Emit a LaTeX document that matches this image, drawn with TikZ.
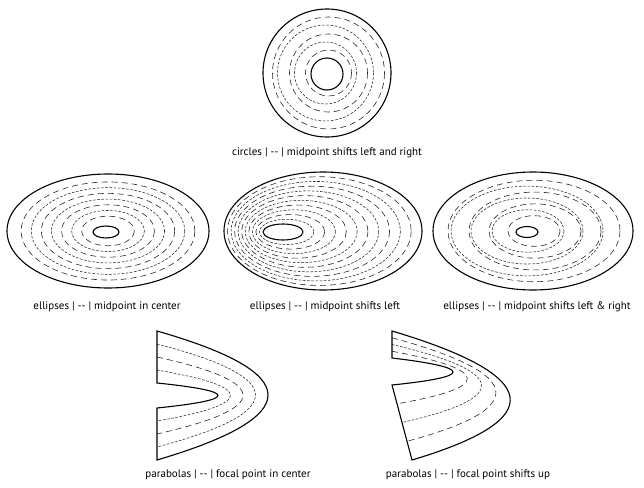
\documentclass[tikz,border=0pt]{standalone}
\usepackage{fontspec}
\setmainfont{PT Sans}
\usepackage{tikz}
\usetikzlibrary{calc}
\newcommand{\captfont}{\fontsize{11}{13}\selectfont}
\tikzset{
  solidline/.style={line width=1.1pt, draw=black},
  longdash/.style={line width=0.6pt, draw=black!85, dash pattern=on 6pt off 4pt},
  shortdash/.style={line width=0.55pt, draw=black!85, dash pattern=on 2.6pt off 1.6pt},
  capt/.style={font=\captfont, inner sep=0pt, anchor=center},
}

\begin{document}
\begin{tikzpicture}[x=1pt, y=-1pt]
  \useasboundingbox (0,0) rectangle (644,487);

  % --- Circles ---
  \draw[solidline] (327,73) circle[radius=64];
  \foreach \r/\dx/\sty in {56/1.5/longdash, 48/-1.5/shortdash, 39/1.5/longdash,
                           31/-1.5/shortdash, 23/1.5/longdash}
    \draw[\sty] ({327+\dx},73) circle[radius=\r];
  \draw[solidline] (327,74) circle[radius=16];
  \node[capt] (lbl-circ) at (327,153)
    {circles | {-}{-} | midpoint shifts left and right};

  % --- Ellipses, midpoint in center ---
  \draw[solidline] (108,231) ellipse[x radius=101, y radius=57];
  \foreach \k/\sty in {.86/longdash, .76/shortdash, .66/longdash, .56/shortdash,
                       .46/longdash, .36/shortdash, .26/longdash}
    \draw[\sty] (108,231) ellipse[x radius={101*\k}, y radius={57*\k}];
  \draw[solidline] (106,232) ellipse[x radius=13, y radius=6];
  \node[capt] (lbl-ecen) at (107,307) {ellipses | {-}{-} | midpoint in center};

  % --- Ellipses, midpoint shifts left ---
  \draw[solidline] (323,231) ellipse[x radius=99, y radius=59];
  \foreach \i/\sty in {1/shortdash, 2/longdash, 3/shortdash, 4/longdash, 5/shortdash,
                       6/longdash, 7/shortdash, 8/longdash, 9/shortdash, 10/longdash}
    \draw[\sty] ({283+40*\i/11},{232-\i/11})
      ellipse[x radius={20+79*\i/11}, y radius={8+51*\i/11}];
  \draw[solidline] (283,232) ellipse[x radius=20, y radius=8];
  \node[capt] (lbl-eleft) at (325,307) {ellipses | {-}{-} | midpoint shifts left};

  % --- Ellipses, midpoint shifts left & right ---
  \draw[solidline] (533,231) ellipse[x radius=100, y radius=59];
  \foreach \k/\dx/\sty in {.86/3/longdash, .76/-4/shortdash, .66/4/longdash,
                           .56/-4/shortdash, .46/4/longdash, .36/-3/shortdash,
                           .26/3/longdash}
    \draw[\sty] ({531+\dx},231) ellipse[x radius={100*\k}, y radius={59*\k}];
  \draw[solidline] (527,232) ellipse[x radius=11, y radius=5.5];
  \node[capt] (lbl-elr) at (537,307) {ellipses | {-}{-} | midpoint shifts left \& right};

  % --- Parabolas, focal point in center ---
  \coordinate (pl-ai) at (157,383);
  \coordinate (pl-ci) at (279,395.5);
  \coordinate (pl-bi) at (157,408);
  \coordinate (pl-ao) at (157,331);
  \coordinate (pl-co) at (379,394.5);
  \coordinate (pl-bo) at (157,460);
  \foreach \t/\sty in {0.25/shortdash, 0.5/longdash, 0.75/shortdash} {
    \coordinate (a) at ($(pl-ai)!\t!(pl-ao)$);
    \coordinate (c) at ($(pl-ci)!\t!(pl-co)$);
    \coordinate (b) at ($(pl-bi)!\t!(pl-bo)$);
    \draw[\sty] (a) .. controls ($(a)!2/3!(c)$) and ($(b)!2/3!(c)$) .. (b);
  }
  \draw[solidline, line join=miter] (pl-bi) -- (pl-bo)
    .. controls ($(pl-bo)!2/3!(pl-co)$) and ($(pl-ao)!2/3!(pl-co)$) .. (pl-ao)
    -- (pl-ai)
    .. controls ($(pl-ai)!2/3!(pl-ci)$) and ($(pl-bi)!2/3!(pl-ci)$) .. cycle;
  \node[capt] (lbl-pcen) at (228,475) {parabolas | {-}{-} | focal point in center};

  % --- Parabolas, focal point shifts up ---
  \coordinate (pr-ai) at (392,358);
  \coordinate (pr-ci) at (514,372.5);
  \coordinate (pr-bi) at (392,385);
  \coordinate (pr-ao) at (392,331);
  \coordinate (pr-co) at (618,398.5);
  \coordinate (pr-bo) at (412,460);
  \foreach \t/\sty in {0.25/longdash, 0.5/shortdash, 0.75/longdash} {
    \coordinate (a) at ($(pr-ai)!\t!(pr-ao)$);
    \coordinate (c) at ($(pr-ci)!\t!(pr-co)$);
    \coordinate (b) at ($(pr-bi)!\t!(pr-bo)$);
    \draw[\sty] (a) .. controls ($(a)!2/3!(c)$) and ($(b)!2/3!(c)$) .. (b);
  }
  \draw[solidline, line join=miter] (pr-bi) -- (pr-bo)
    .. controls ($(pr-bo)!2/3!(pr-co)$) and ($(pr-ao)!2/3!(pr-co)$) .. (pr-ao)
    -- (pr-ai)
    .. controls ($(pr-ai)!2/3!(pr-ci)$) and ($(pr-bi)!2/3!(pr-ci)$) .. cycle;
  \node[capt] (lbl-pup) at (468,475) {parabolas | {-}{-} | focal point shifts up};

\end{tikzpicture}
\end{document}
